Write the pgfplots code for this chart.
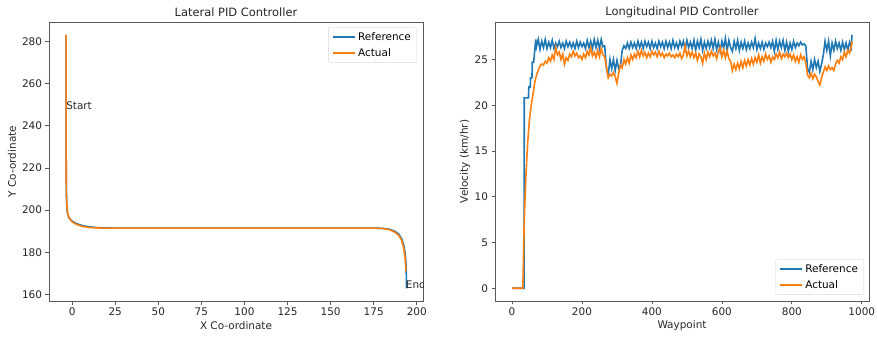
\documentclass[border=0pt]{standalone}
\usepackage{pgfplots}
\pgfplotsset{compat=1.18}
\usepackage{pgfplotstable}
\usepackage{fontspec}
\setmainfont{DejaVu Sans}
\definecolor{tabblue}{HTML}{1F77B4}
\definecolor{taborange}{HTML}{FF7F0E}

\pgfplotstableread{
x y
-3.5 283
-3.5 260
-3.45 230
-3.35 210
-3.15 203
-2.8 199.2
-2.0 196.6
0 194.8
3 193.5
6 192.7
10 192.1
15 191.7
25 191.5
100 191.5
175 191.5
180 191.4
184 191.0
187 190.1
189.5 188.7
191.3 186.3
192.5 183.2
193.3 179.3
193.7 175
193.9 170
194 166
194 163
}\latref

\pgfplotstableread{
x y
-3.5 283
-3.5 260
-3.45 230
-3.35 210
-3.1 203
-2.6 198.6
-1.5 196.0
0 194.5
3 193.1
6 192.3
10 191.8
15 191.55
25 191.5
100 191.5
175 191.5
180 191.35
184 190.8
187 189.7
189.5 188.1
191.1 185.9
192.3 182.6
193.1 178.6
193.5 174.6
193.7 171
}\latact

\pgfplotstableread{
w v
0 0
10 0
20 0
30 0
34.5 0
35 20.8
40 20.8
45 20.8
47 20.8
48 22.0
52 22.0
53 23.0
57 23.0
58 24.7
62 24.7
65 26.0
68 27.2
70 26.4
75 27.2
80 26.1
85 27.0
90 26.3
95 27.2
100 26.2
105 26.9
110 26.3
115 27.1
120 26.2
125 26.8
130 26.4
135 27.0
140 26.3
145 26.8
150 26.2
155 27.0
160 26.4
165 26.9
170 26.3
175 26.8
180 26.2
185 27.0
190 26.3
195 26.9
200 26.4
205 26.8
210 26.2
215 27.1
220 26.3
225 27.0
230 26.2
235 27.2
240 26.3
245 27.1
250 26.2
255 27.2
260 26.4
265 26.5
270 24.0
275 23.3
280 25.0
285 24.0
290 25.0
295 23.8
300 24.9
305 24.0
310 24.3
315 26.0
320 26.5
325 26.2
330 26.8
335 26.2
340 26.9
345 26.3
350 26.8
355 26.2
360 27.0
365 26.3
370 26.9
375 26.2
380 27.0
385 26.4
390 26.9
395 26.2
400 27.0
405 26.3
410 26.8
415 26.2
420 27.0
425 26.4
430 26.9
435 26.2
440 27.0
445 26.3
450 26.9
455 26.2
460 27.1
465 26.3
470 26.8
475 26.2
480 27.0
485 26.4
490 27.0
495 26.1
500 27.1
505 26.3
510 26.9
515 26.2
520 27.1
525 26.0
530 27.0
535 26.3
540 27.2
545 26.0
550 26.9
555 26.2
560 27.0
565 26.3
570 27.1
575 26.2
580 27.2
585 26.1
590 26.9
595 25.9
600 27.0
605 26.2
610 27.3
615 26.0
620 27.1
625 26.3
630 25.9
635 27.0
640 26.2
645 27.1
650 26.0
655 26.9
660 26.2
665 27.0
670 26.1
675 26.8
680 26.2
685 26.9
690 26.3
695 27.3
700 26.1
705 26.8
710 26.2
715 26.9
720 26.1
725 26.8
730 26.4
735 26.9
740 26.3
745 27.0
750 25.9
755 27.1
760 26.1
765 27.0
770 26.3
775 27.1
780 26.0
785 26.9
790 25.9
795 26.8
800 26.1
805 27.0
810 26.3
815 26.8
820 26.5
825 26.9
830 26.6
835 26.7
840 26.5
845 24.0
850 23.6
855 24.8
860 23.9
865 25.0
870 24.1
875 24.8
880 23.7
885 24.5
890 25.5
895 27.0
900 26.0
905 27.0
910 25.4
915 26.8
920 26.0
925 27.0
930 26.2
935 26.8
940 26.0
945 26.9
950 26.1
955 26.8
960 26.0
965 26.9
970 26.3
972 27.7
}\lonref

\pgfplotstableread{
w v
0 0
10 0
20 0
31 0
35 7.5
40 12.5
45 16.0
50 18.5
55 20.0
60 21.2
65 22.5
70 23.3
75 23.8
80 24.3
85 24.5
90 24.4
95 24.8
100 24.6
105 25.2
110 24.8
115 25.5
120 25.0
125 26.3
130 25.5
135 25.8
140 25.0
145 25.6
150 24.5
155 25.2
160 24.9
165 25.6
170 25.3
175 25.9
180 25.4
185 25.7
190 25.2
195 25.4
200 25.0
205 25.6
210 25.2
215 25.9
220 25.5
225 26.3
230 25.4
235 25.8
240 25.2
245 26.0
250 25.3
255 26.2
260 25.5
265 25.3
270 24.2
275 23.0
280 23.4
285 23.2
290 23.6
295 23.1
300 22.4
305 23.5
310 24.4
315 24.1
320 25.0
325 24.5
330 25.2
335 24.6
340 25.5
345 25.0
350 25.6
355 25.2
360 25.9
365 25.3
370 26.0
375 25.4
380 25.8
385 25.2
390 25.7
395 25.3
400 25.9
405 25.5
410 25.8
415 25.3
420 25.9
425 25.4
430 25.7
435 25.2
440 25.6
445 25.4
450 25.7
455 25.3
460 25.5
465 25.2
470 25.6
475 25.3
480 25.7
485 25.1
490 25.5
495 26.5
500 25.4
505 25.9
510 25.3
515 25.8
520 25.2
525 25.7
530 24.9
535 25.6
540 25.3
545 24.6
550 25.7
555 25.0
560 25.8
565 25.3
570 25.9
575 25.4
580 25.7
585 25.1
590 25.9
595 26.3
600 25.3
605 26.0
610 25.2
615 25.9
620 25.1
625 24.8
630 23.8
635 24.5
640 23.9
645 24.6
650 24.0
655 24.8
660 24.1
665 24.9
670 24.3
675 25.0
680 24.4
685 25.1
690 24.5
695 25.2
700 24.7
705 25.5
710 24.6
715 25.3
720 24.8
725 25.6
730 25.0
735 25.4
740 24.7
745 25.3
750 25.0
755 25.6
760 25.2
765 25.8
770 25.1
775 25.6
780 25.3
785 25.7
790 25.2
795 25.6
800 25.0
805 25.5
810 24.8
815 25.3
820 24.7
825 25.5
830 25.0
835 25.3
840 24.6
845 23.3
850 23.0
855 23.5
860 22.9
865 23.4
870 23.1
875 22.6
880 22.2
885 23.0
890 23.6
895 24.2
900 23.8
905 24.3
910 23.9
915 24.1
920 23.8
925 24.5
930 24.9
935 24.6
940 25.3
945 25.0
950 25.8
955 25.3
960 26.0
965 25.7
970 26.5
972 27.0
}\lonact

\pgfplotsset{
  mplstyle/.style={
    scale only axis,
    width=374bp, height=279bp,
    axis line style={gray!70!black, line width=0.8pt},
    tick align=outside,
    xtick pos=lower, ytick pos=left,
    major tick length=3.5bp,
    tick style={gray!70!black, line width=0.7pt},
    ticklabel style={font=\fontsize{10.5}{12}\selectfont, text=black!85},
    /pgf/number format/assume math mode=true,
    /pgf/number format/set thousands separator={},
    label style={font=\fontsize{10.5}{12}\selectfont, text=black!85},
    every axis title/.style={at={(axis description cs:0.5,1.036)}, anchor=center, font=\fontsize{11.5}{13}\selectfont, text=black!85},
    xlabel style={at={(axis description cs:0.5,-0.0896)}, anchor=center},
    legend style={font=\fontsize{10.5}{12}\selectfont, draw=black!15, rounded corners=2bp, fill=white, inner xsep=4bp, inner ysep=3bp, row sep=2.6bp},
    legend cell align=left,
    legend image code/.code={\draw[#1] (0bp,0bp) -- (22bp,0bp);},
  }
}

\begin{document}
\begin{tikzpicture}
\begin{axis}[mplstyle,
  at={(0bp,0bp)}, anchor=south west,
  xmin=-13.4, xmax=203.6, ymin=157.0, ymax=289.1,
  xtick={0,25,...,200}, ytick={160,180,...,280},
  title={Lateral PID Controller},
  xlabel={X Co-ordinate}, ylabel={Y Co-ordinate},
  ylabel style={at={(axis description cs:-0.099,0.5)}, anchor=center},
  legend style={at={(axis description cs:0.984,0.982)}, anchor=north east},
]
\addlegendimage{draw=tabblue, line width=1.8pt}
\addlegendentry{Reference}
\addlegendimage{draw=taborange, line width=1.8pt}
\addlegendentry{Actual}
\addplot[draw=tabblue, line width=1.6pt, forget plot] table[x=x,y=y] {\latref};
\addplot[draw=taborange, line width=1.6pt, forget plot] table[x=x,y=y] {\latact};
\node[anchor=west, inner sep=0pt, font=\fontsize{10.5}{12}\selectfont, text=black!85] at (axis cs:-3.5,249.4) {Start};
\node[anchor=west, inner sep=0pt, font=\fontsize{10.5}{12}\selectfont, text=black!85] at (axis cs:193.6,164.9) {End};
\end{axis}
\begin{axis}[mplstyle,
  at={(446bp,0bp)}, anchor=south west,
  xmin=-48.6, xmax=1020.6, ymin=-1.39, ymax=29.1,
  xtick={0,200,...,1000}, ytick={0,5,...,25},
  title={Longitudinal PID Controller},
  xlabel={Waypoint}, ylabel={Velocity (km/hr)},
  ylabel style={at={(axis description cs:-0.080,0.5)}, anchor=center},
  legend style={at={(axis description cs:0.987,0.022)}, anchor=south east},
]
\addlegendimage{draw=tabblue, line width=1.8pt}
\addlegendentry{Reference}
\addlegendimage{draw=taborange, line width=1.8pt}
\addlegendentry{Actual}
\addplot[draw=tabblue, line width=1.6pt, forget plot] table[x=w,y=v] {\lonref};
\addplot[draw=taborange, line width=1.6pt, forget plot] table[x=w,y=v] {\lonact};
\end{axis}
\pgfresetboundingbox
\useasboundingbox (-49bp,-37bp) rectangle (828bp,301bp);
\end{tikzpicture}
\end{document}
